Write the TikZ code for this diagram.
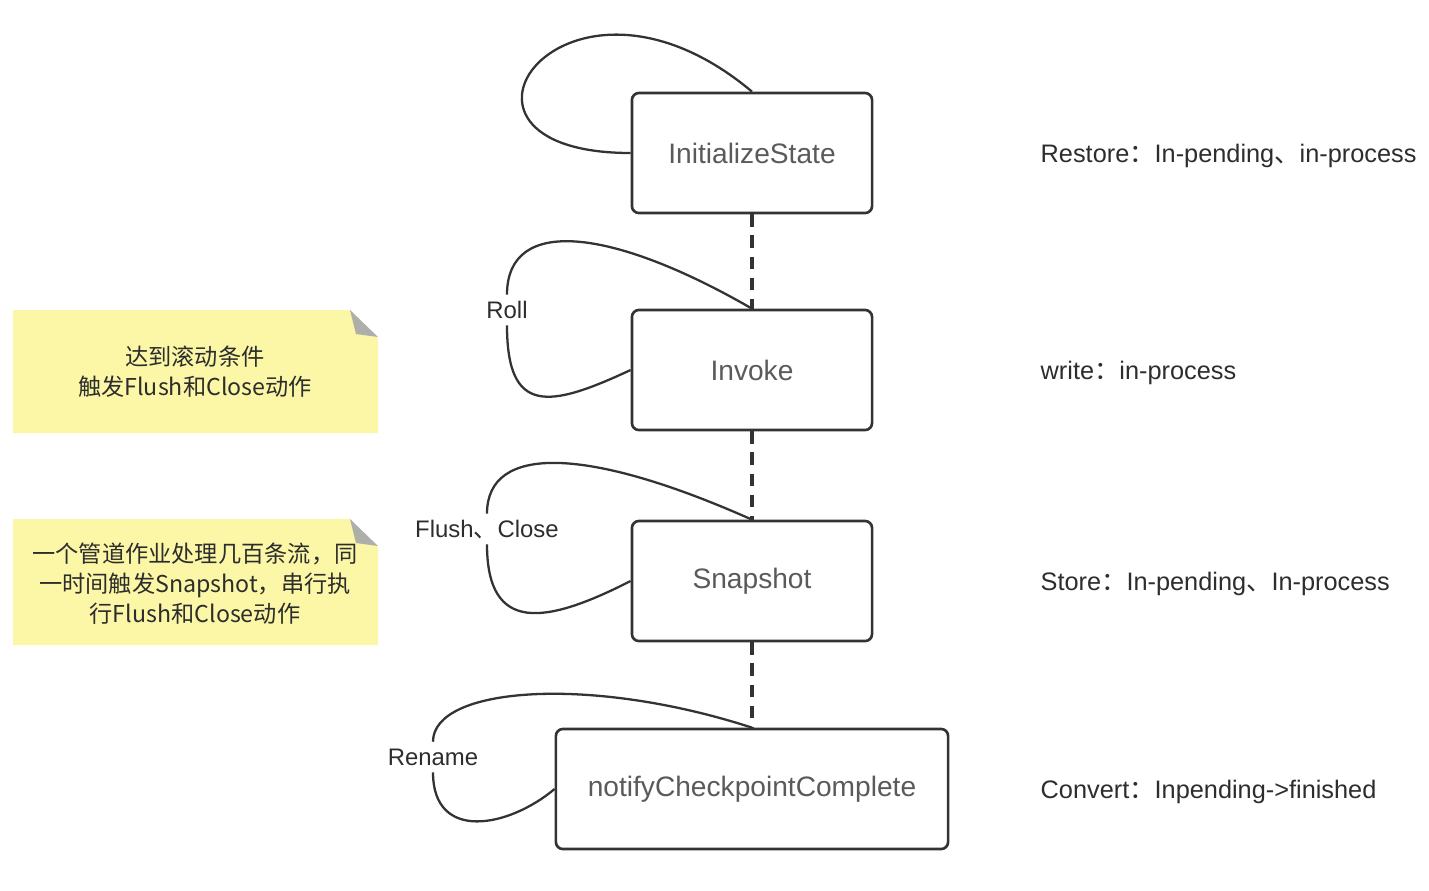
\documentclass[tikz,border=0pt]{standalone}
\usepackage{fontspec}
\setmainfont{Liberation Sans}
\newfontfamily\cjk{Noto Sans CJK SC}
\definecolor{flink_line}{RGB}{51, 51, 51}
\definecolor{flink_text}{RGB}{90, 90, 90}
\definecolor{flink_dark}{RGB}{45, 45, 45}
\definecolor{note_yellow}{RGB}{251, 247, 166}
\definecolor{note_fold}{RGB}{175, 175, 170}
\usetikzlibrary{arrows.meta, positioning}

\begin{document}
\begin{tikzpicture}[x=0.01cm, y=-0.01cm,
    state/.style={draw=flink_line, line width=0.75pt, rounded corners=2pt,
                  minimum width=2.4cm, minimum height=1.2cm,
                  text=flink_text, font=\fontsize{8}{10}\selectfont},
    info/.style={anchor=west, inner sep=0pt, text=flink_dark,
                 font=\fontsize{7.2}{9}\selectfont},
    looplbl/.style={inner sep=1.5pt, text height=5pt, text depth=0.3pt,
                    text=flink_dark, font=\fontsize{6.8}{8}\selectfont},
    loopline/.style={draw=flink_line, line width=0.65pt},
    link/.style={draw=flink_line, line width=1.1pt, dash pattern=on 3.6pt off 2.4pt},
    notetext/.style={align=center, text=flink_dark,
                     font=\cjk\fontsize{6.6}{8.5}\selectfont}]
          \useasboundingbox (0,0) rectangle (1429,890);

          % sticky notes
          \fill[note_yellow] (13,310) -- (350,310) -- (378,338) -- (378,433) -- (13,433) -- cycle;
          \fill[note_fold] (350,310) -- (378,337) -- (356,334) -- cycle;
          \fill[note_yellow] (13,519) -- (350,519) -- (378,547) -- (378,645) -- (13,645) -- cycle;
          \fill[note_fold] (350,519) -- (378,546) -- (356,543) -- cycle;
          \node[notetext] (rollnote) at (195,372) {达到滚动条件\\触发Flush和Close动作};
          \node[notetext] (snapnote) at (195,584)
            {一个管道作业处理几百条流，同\\一时间触发Snapshot，串行执\\行Flush和Close动作};

          % states
          \node[state] (init) at (752,153) {InitializeState};
          \node[state] (invoke) at (752,370) {Invoke};
          \node[state] (snap) at (752,581) {Snapshot};
          \node[state, minimum width=3.92cm] (notify) at (752,789) {notifyCheckpointComplete};

          \draw[link] (init) -- (invoke);
          \draw[link] (invoke) -- (snap);
          \draw[link] (snap) -- (notify);

          % self loops
          \draw[loopline] (init.north) to[out=140, in=180,
            out distance=2.45cm, in distance=2.21cm] (init.west);

          \node[looplbl] (roll) at (507,310) {Roll};
          \draw[loopline] (invoke.north) to[out=150, in=90,
            out distance=1.6cm, in distance=0.8cm] (roll.north);
          \draw[loopline] (roll.south) to[out=-90, in=205,
            out distance=0.9cm, in distance=0.9cm] (invoke.west);

          \node[looplbl] (flushclose) at (487,529) {Flush{\cjk 、}Close};
          \draw[loopline] (snap.north) to[out=156, in=90,
            out distance=1.8cm, in distance=0.7cm] (flushclose.north);
          \draw[loopline] (flushclose.south) to[out=-90, in=207,
            out distance=0.9cm, in distance=0.95cm] (snap.west);

          \node[looplbl] (rename) at (433,757) {Rename};
          \draw[loopline] (notify.north) to[out=162, in=90,
            out distance=1.7cm, in distance=0.55cm] (rename.north);
          \draw[loopline] (rename.south) to[out=-90, in=220,
            out distance=0.7cm, in distance=0.6cm] (notify.west);

          % storage actions
          \node[info] (restore) at (1040,156) {Restore{\cjk ：}In-pending{\cjk 、}in-process};
          \node[info] (write) at (1040,373) {write{\cjk ：}in-process};
          \node[info] (store) at (1040,584) {Store{\cjk ：}In-pending{\cjk 、}In-process};
          \node[info] (convert) at (1040,792) {Convert{\cjk ：}Inpending->finished};
        \end{tikzpicture}
\end{document}
